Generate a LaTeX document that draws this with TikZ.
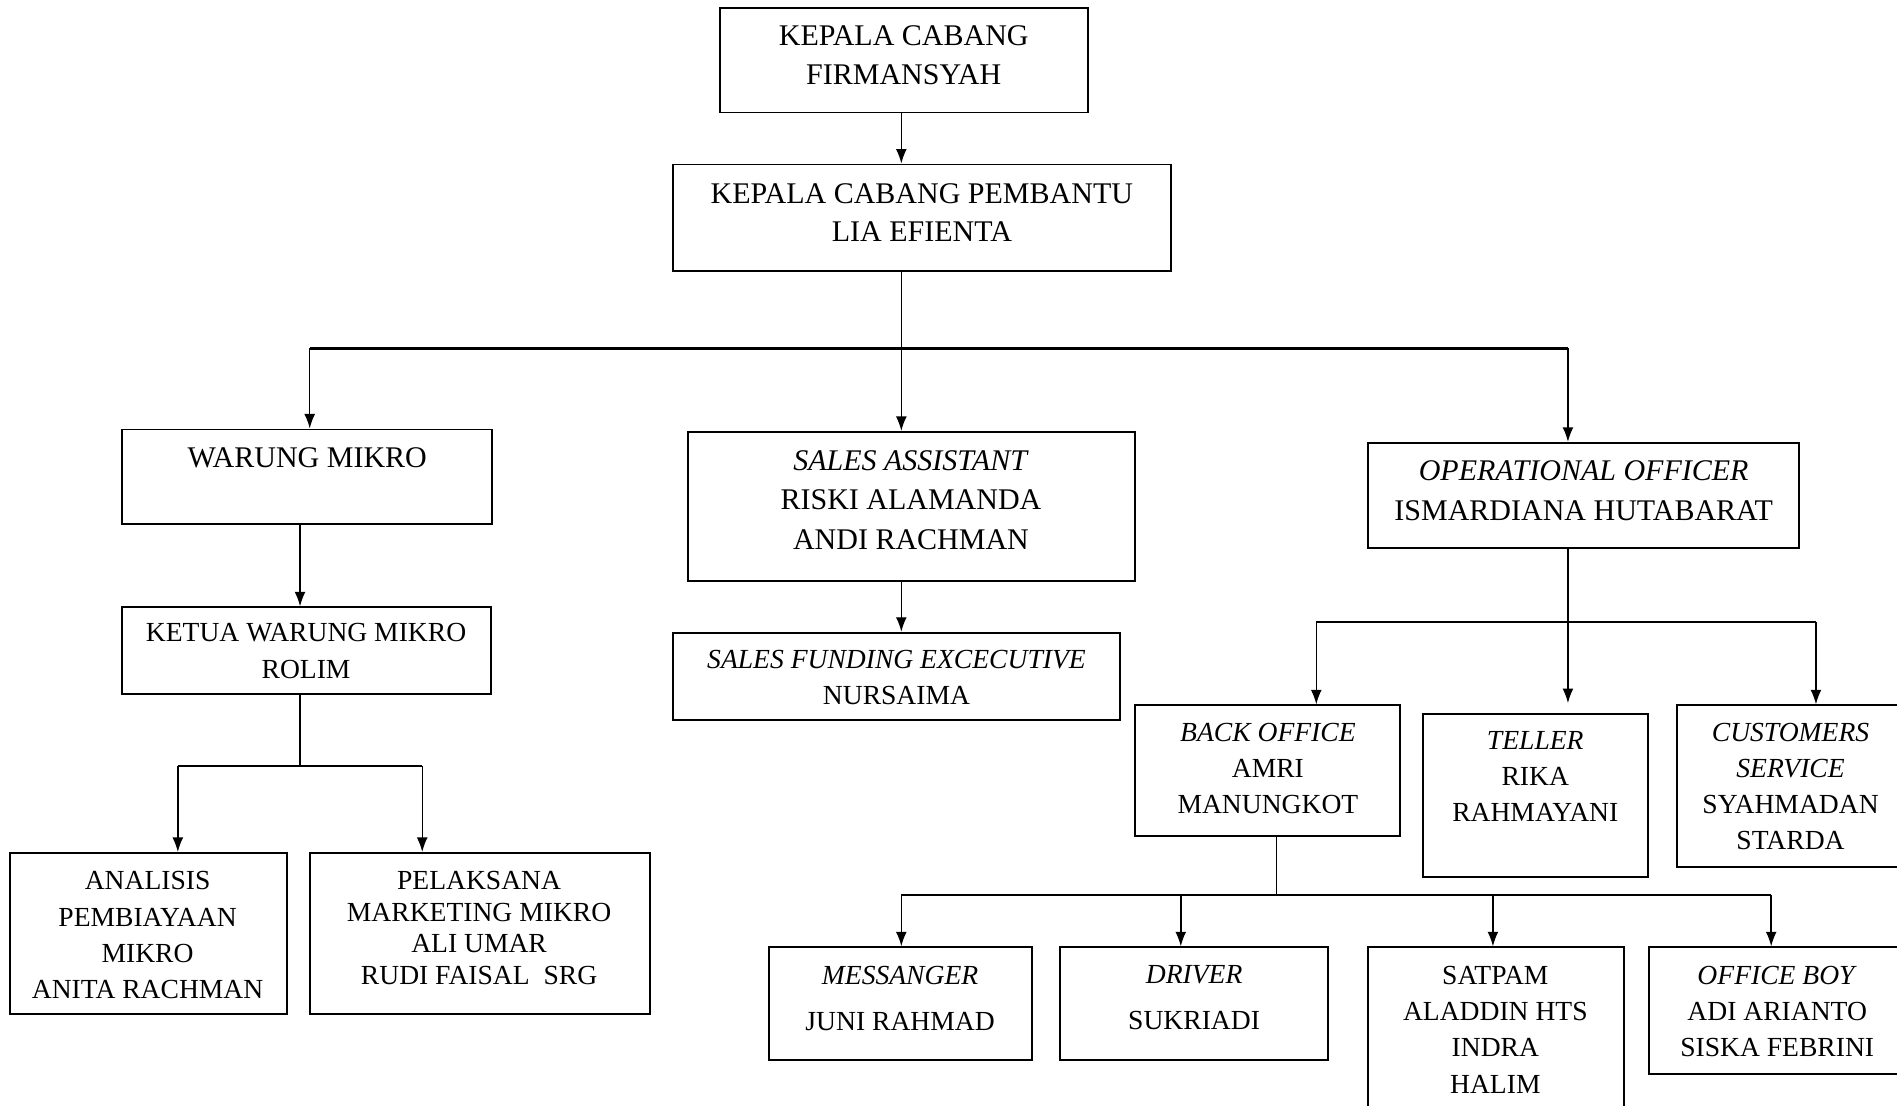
\documentclass[tikz,border=0pt]{standalone}
\usepackage{fontspec}
\setmainfont{Liberation Serif}
\usetikzlibrary{arrows.meta,fit}

\begin{document}
\begin{tikzpicture}[x=0.5pt,y=-0.5pt,
  box/.style={draw,line width=0.8pt,inner sep=0pt},
  txt/.style={anchor=north,align=center,inner sep=0pt,font=\fontsize{12.4}{15}\selectfont},
  txts/.style={txt,font=\fontsize{11.4}{15}\selectfont},
  arr/.style={line width=0.6pt,-{Latex[length=6pt,width=4.5pt]}},
  bus/.style={line width=1pt}]
\useasboundingbox (0,0) rectangle (1568,914);
\clip (0,0) rectangle (1568,914);

\node[box,fit={(595,7) (899,93)}] (kc) {};
\node[txt] (kc-t) at (747,21) {KEPALA CABANG\\[1pt]FIRMANSYAH};
\node[box,fit={(556,136) (968,224)}] (kcp) {};
\node[txt] (kcp-t) at (762,151) {KEPALA CABANG PEMBANTU\\[1pt]LIA EFIENTA};

\node[box,fit={(101,355) (407,433)}] (wm) {};
\node[txt] (wm-t) at (254,370) {WARUNG MIKRO};
\node[box,fit={(569,357) (938,480)}] (sa) {};
\node[txt] (sa-t) at (753,372) {\textit{SALES ASSISTANT}\\[1.25pt]RISKI ALAMANDA\\[1.25pt]ANDI RACHMAN};
\node[box,fit={(1131,366) (1487,453)}] (oo) {};
\node[txt] (oo-t) at (1309,380) {\textit{OPERATIONAL OFFICER}\\[1.5pt]ISMARDIANA HUTABARAT};

\node[box,fit={(101,502) (406,574)}] (kwm) {};
\node[txts] (kwm-t) at (253,515) {KETUA WARUNG MIKRO\\ROLIM};
\node[box,fit={(556,523) (926,595)}] (sfe) {};
\node[txts] (sfe-t) at (741,537) {\textit{SALES FUNDING EXCECUTIVE}\\NURSAIMA};

\node[box,fit={(8,705) (237,838)}] (apm) {};
\node[txts] (apm-t) at (122,720) {ANALISIS\\PEMBIAYAAN\\MIKRO\\ANITA RACHMAN};
\node[box,fit={(256,705) (537,838)}] (pmm) {};
\node[txts,font=\fontsize{11.4}{13}\selectfont] (pmm-t) at (396,720) {PELAKSANA\\MARKETING MIKRO\\ALI UMAR\\RUDI FAISAL\ \ SRG};

\node[box,fit={(938,583) (1157,691)}] (bo) {};
\node[txts] (bo-t) at (1048,597) {\textit{BACK OFFICE}\\AMRI\\MANUNGKOT};
\node[box,fit={(1176,590) (1362,725)}] (tel) {};
\node[txts] (tel-t) at (1269,604) {\textit{TELLER}\\RIKA\\RAHMAYANI};
\node[box,fit={(1386,583) (1574,717)}] (cs) {};
\node[txts] (cs-t) at (1480,597) {\textit{CUSTOMERS}\\\textit{SERVICE}\\SYAHMADAN\\STARDA};

\node[box,fit={(636,783) (853,876)}] (msg) {};
\node[txts] (msg-t) at (744,798) {\textit{MESSANGER}\\[4pt]JUNI RAHMAD};
\node[box,fit={(876,783) (1098,876)}] (drv) {};
\node[txts] (drv-t) at (987,798) {\textit{DRIVER}\\[4pt]SUKRIADI};
\node[box,fit={(1131,783) (1342,930)}] (sat) {};
\node[txts] (sat-t) at (1236,798) {SATPAM\\ALADDIN HTS\\INDRA\\HALIM};
\node[box,fit={(1363,783) (1575,888)}] (ob) {};
\node[txts] (ob-t) at (1469,798) {\textit{OFFICE BOY}\\ADI ARIANTO\\SISKA FEBRINI};

\coordinate (b0) at (256,288);
\coordinate (b1) at (745,288);
\coordinate (b2) at (1296,288);
\coordinate (k1) at (248,633);
\coordinate (k1l) at (147,633);
\coordinate (k1r) at (349,633);
\coordinate (o1) at (1296,514);
\coordinate (o1l) at (1088,514);
\coordinate (o1r) at (1501,514);
\coordinate (bb) at (1055,740);
\coordinate (bb1) at (745,740);
\coordinate (bb2) at (976,740);
\coordinate (bb3) at (1234,740);
\coordinate (bb4) at (1464,740);

\draw[arr] (kc.south -| b1) -- (kcp.north -| b1);
\draw[line width=0.6pt] (kcp.south -| b1) -- (b1);
\draw[bus] (b0) -- (b2);
\draw[arr] (b0) -- (wm.north -| b0);
\draw[arr] (b1) -- (sa.north -| b1);
\draw[arr] (b2) -- (oo.north -| b2);

\draw[arr] (wm.south -| k1) -- (kwm.north -| k1);
\draw[line width=0.6pt] (kwm.south -| k1) -- (k1);
\draw[bus] (k1l) -- (k1r);
\draw[arr] (k1l) -- (apm.north -| k1l);
\draw[arr] (k1r) -- (pmm.north -| k1r);

\draw[arr] (sa.south -| b1) -- (sfe.north -| b1);

\draw[line width=0.6pt] (oo.south -| o1) -- (o1);
\draw[bus] (o1l) -- (o1r);
\draw[arr] (o1l) -- (bo.north -| o1l);
\draw[arr,shorten >=4pt] (o1) -- (tel.north -| o1);
\draw[arr] (o1r) -- (cs.north -| o1r);

\draw[line width=0.6pt] (bo.south -| bb) -- (bb);
\draw[bus] (bb1) -- (bb4);
\foreach \c/\n in {bb1/msg,bb2/drv,bb3/sat,bb4/ob}
  \draw[arr] (\c) -- (\n.north -| \c);
\end{tikzpicture}
\end{document}
